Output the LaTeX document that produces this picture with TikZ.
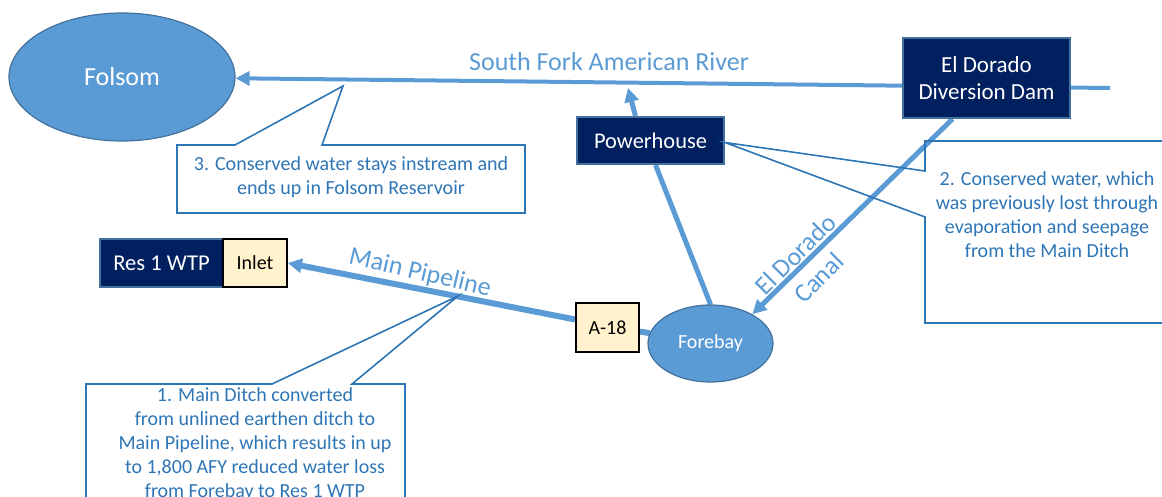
\documentclass[tikz,border=0pt]{standalone}
\usepackage{fontspec}
\setmainfont{Carlito}
\usepackage{xcolor}
\usepackage{tikz}
\usetikzlibrary{shapes.geometric,arrows.meta,backgrounds}
\definecolor{waterblue}{HTML}{5B9BD5}
\definecolor{rimblue}{HTML}{41719C}
\definecolor{navy}{HTML}{002060}
\definecolor{cream}{HTML}{FFF2CC}
\definecolor{noteblue}{HTML}{2E75B6}

\begin{document}
\begin{tikzpicture}[x=0.5pt,y=-0.5pt,
		lake/.style={ellipse,fill=waterblue,draw=rimblue,line width=0.6pt,text=white,inner sep=0pt},
		site/.style={rectangle,fill=navy,draw=rimblue,line width=1pt,text=white,inner sep=0pt},
		tap/.style={rectangle,fill=cream,draw=black,line width=0.9pt,inner sep=0pt,font=\fontsize{10}{12}\selectfont},
		flow/.style={draw=waterblue,line width=2.5pt},
		head/.style={-{Triangle[length=7pt,width=7pt]}},
		note/.style={draw=noteblue,line width=0.8pt},
		notetext/.style={text=noteblue,align=center,font=\fontsize{10}{12}\selectfont},
		tag/.style={text=waterblue,font=\fontsize{13}{16.5}\selectfont,align=center}]
		\useasboundingbox (0,0) rectangle (1162,497);
		\clip (0,0) rectangle (1162,497);
		% places
		\node[lake,minimum width=113pt,minimum height=64pt,font=\fontsize{13}{15}\selectfont] (fol) at (122,77) {Folsom};
		\node[lake,minimum width=62.5pt,minimum height=38.5pt,font=\fontsize{10}{12}\selectfont] (fb) at (710.5,343.5) {Forebay};
		\node[site,minimum width=83.5pt,minimum height=40pt,align=center,font=\fontsize{11.5}{13.5}\selectfont] (dam) at (986.5,78) {El Dorado\\Diversion Dam};
		\node[site,minimum width=73.5pt,minimum height=23.5pt,font=\fontsize{11.2}{13}\selectfont] (ph) at (650.5,140.5) {Powerhouse};
		\node[site,minimum width=61.5pt,minimum height=24pt,font=\fontsize{11.3}{13}\selectfont] (res) at (161.5,263) {Res 1 WTP};
		\node[tap,minimum width=32pt,minimum height=24pt] (inl) at (255,263) {Inlet};
		\node[tap,minimum width=31.5pt,minimum height=24.5pt] (a18) at (607.5,327.5) {A-18};
		% labels
		\node[tag] (sfar) at (609,62) {South Fork American River};
		\node[tag,rotate=-13] (mp) at (420,273) {Main Pipeline};
		\node[tag,rotate=45] (edc) at (807,266) {El Dorado\\Canal};
		% callouts
		\coordinate (t1) at (458,296);
		\coordinate (t3) at (343,86);
		\draw[note] (86,384) -- (272,384) -- (t1) -- (352,384) -- (405,384) -- (405,520) -- (86,520) -- cycle;
		\draw[note] (177,145) -- (235,145) -- (t3) -- (322,145) -- (525,145) -- (525,213) -- (177,213) -- cycle;
		\draw[note] (925,141) -- (925,171) -- ([yshift=-1pt]ph.east) -- (925,217) -- (925,323) -- (1175,323) -- (1175,141) -- cycle;
		\node[notetext] (n1) at (255,444) {1. Main Ditch converted\\from unlined earthen ditch to\\Main Pipeline, which results in up\\to 1,800 AFY reduced water loss\\from Forebay to Res 1 WTP};
		\node[notetext] (n2) at (1047,215) {2. Conserved water, which\\was previously lost through\\evaporation and seepage\\from the Main Ditch};
		\node[notetext] (n3) at (351,177) {3. Conserved water stays instream and\\ends up in Folsom Reservoir};
		% water
		\begin{scope}[on background layer]
			\coordinate (src) at (1110,88);
			\coordinate (riv) at (628,88);
			\draw[flow,line width=2pt,head] (src) -- (fol);
			\draw[flow,head] ([xshift=-7.5pt]ph.north) -- (riv);
			\draw[flow] (fb.north) -- ([xshift=2.5pt]ph.south);
			\draw[flow,head] ([xshift=-17pt]dam.south) -- (fb.35);
			\draw[flow,line width=3pt,head] ([yshift=4pt]a18.west) -- (inl.east);
			\draw[flow,line width=3pt] ([yshift=-2pt]a18.east) -- (fb);
		\end{scope}
\end{tikzpicture}
\end{document}
